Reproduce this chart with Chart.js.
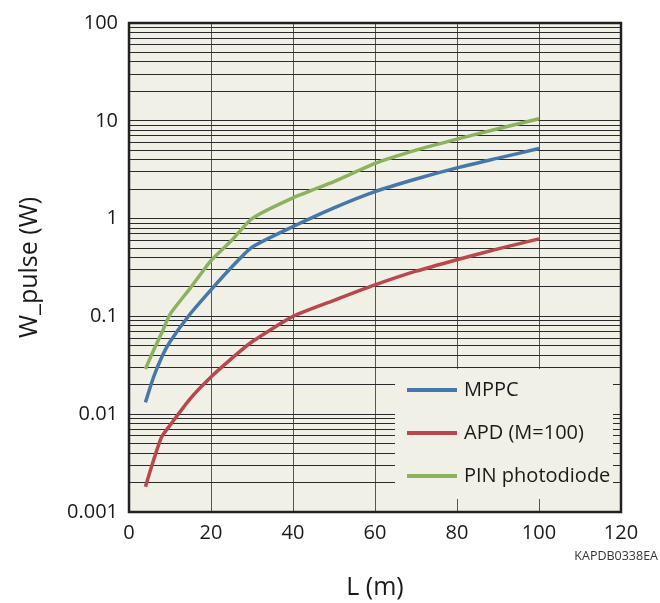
<!DOCTYPE html>
<html>
<head>
<meta charset="utf-8">
<title>W_pulse vs L</title>
<script src="https://cdn.jsdelivr.net/npm/chart.js@4.4.1/dist/chart.umd.min.js"></script>
<style>
  html, body { margin: 0; padding: 0; background: #fff; }
  #wrap { width: 660px; height: 603px; }
</style>
</head>
<body>
<div id="wrap"><canvas id="pulseChart" width="660" height="603"></canvas></div>
<script>
// distance L (m)
const lengths = [4, 6, 8, 10, 15, 20, 25, 30, 40, 50, 60, 70, 80, 90, 100];
// required pulse power (W)
const mppc = [0.0132, 0.024, 0.0385, 0.055, 0.107, 0.187, 0.318, 0.51, 0.83, 1.29, 1.89, 2.54, 3.3, 4.15, 5.2];
const apd = [0.00181, 0.0034, 0.0059, 0.0077, 0.0145, 0.024, 0.037, 0.055, 0.1, 0.146, 0.21, 0.29, 0.38, 0.49, 0.62];
const pin = [0.029, 0.045, 0.068, 0.105, 0.196, 0.372, 0.597, 1.0, 1.63, 2.39, 3.67, 5.02, 6.5, 8.3, 10.5];

const seriesNames = ["MPPC", "APD (M=100)", "PIN photodiode"];
const yMajor = [0.001, 0.01, 0.1, 1, 10, 100];
const yTickLabels = ["0.001", "0.01", "0.1", "1", "10", "100"];
const xTicks = [0, 20, 40, 60, 80, 100, 120];

// 1..9 in every decade for the log grid
const yTickValues = [];
for (let d = 0; d < yMajor.length - 1; d++) {
  for (let m = 1; m < 10; m++) yTickValues.push(Number((m * yMajor[d]).toPrecision(2)));
}
yTickValues.push(yMajor[yMajor.length - 1]);

const colors = ["#4677ab", "#b9474b", "#8db25f"];
const plotBg = "#f1f0e7";
const textColor = "#1a1a1a";

function pts(ys) {
  return lengths.map((l, i) => ({ x: l, y: ys[i] }));
}

Chart.defaults.font.family = "'Open Sans', sans-serif";
Chart.defaults.color = textColor;

const framePlugin = {
  id: "frame",
  beforeDraw(chart) {
    const { ctx, chartArea: a } = chart;
    ctx.save();
    ctx.fillStyle = plotBg;
    ctx.fillRect(a.left, a.top, a.right - a.left, a.bottom - a.top);
    ctx.restore();
  },
  afterDatasetsDraw(chart) {
    // legend box sitting inside the plot, covering the grid
    const { ctx } = chart;
    ctx.save();
    ctx.fillStyle = plotBg;
    ctx.fillRect(395, 369, 218, 130);
    ctx.font = "20px 'Open Sans', sans-serif";
    ctx.textBaseline = "middle";
    ctx.textAlign = "left";
    chart.data.datasets.forEach((ds, i) => {
      const y = 390 + i * 43;
      ctx.strokeStyle = ds.borderColor;
      ctx.lineWidth = 4;
      ctx.beginPath();
      ctx.moveTo(407, y);
      ctx.lineTo(457, y);
      ctx.stroke();
      ctx.fillStyle = textColor;
      ctx.fillText(ds.label, 464, y);
    });
    ctx.restore();
  },
  afterDraw(chart) {
    const { ctx, chartArea: a } = chart;
    ctx.save();
    ctx.strokeStyle = "#222";
    ctx.lineWidth = 2.5;
    ctx.strokeRect(a.left, a.top, a.right - a.left, a.bottom - a.top);
    ctx.fillStyle = "#333";
    ctx.font = "12.5px 'Open Sans', sans-serif";
    ctx.textAlign = "right";
    ctx.textBaseline = "middle";
    ctx.fillText("KAPDB0338EA", 658, 556);
    ctx.restore();
  }
};

new Chart(document.getElementById("pulseChart"), {
  type: "line",
  data: {
    datasets: [
      { label: seriesNames[0], data: pts(mppc), borderColor: colors[0] },
      { label: seriesNames[1], data: pts(apd), borderColor: colors[1] },
      { label: seriesNames[2], data: pts(pin), borderColor: colors[2] }
    ].map(ds => Object.assign(ds, { borderWidth: 3.5, pointRadius: 0, tension: 0.2, fill: false }))
  },
  options: {
    responsive: false,
    animation: false,
    layout: { padding: { left: 0, right: 39, top: 22, bottom: 0 } },
    plugins: {
      legend: { display: false },
      tooltip: { enabled: false }
    },
    scales: {
      x: {
        type: "linear",
        min: 0,
        max: 120,
        afterBuildTicks: s => { s.ticks = xTicks.map(v => ({ value: v })); },
        afterFit: s => { s.height = 91; },
        ticks: { padding: 9, font: { size: 20 }, color: textColor },
        grid: { color: "#555", lineWidth: 1, drawTicks: false },
        border: { display: false },
        title: { display: true, text: "L (m)", font: { size: 25 }, color: textColor, padding: { top: 0, bottom: 0 } }
      },
      y: {
        type: "logarithmic",
        min: 0.001,
        max: 100,
        afterBuildTicks: s => { s.ticks = yTickValues.map(v => ({ value: v })); },
        afterFit: s => { s.width = 129; },
        ticks: {
          autoSkip: false,
          padding: 11,
          font: { size: 20 },
          color: textColor,
          callback: v => {
            const k = yMajor.indexOf(v);
            return k >= 0 ? yTickLabels[k] : "";
          }
        },
        grid: { color: "#2a2a2a", lineWidth: 1, drawTicks: false },
        border: { display: false },
        title: { display: true, text: "W_pulse (W)", font: { size: 25 }, color: textColor, padding: { top: 15, bottom: 0 } }
      }
    }
  },
  plugins: [framePlugin]
});
</script>
</body>
</html>
